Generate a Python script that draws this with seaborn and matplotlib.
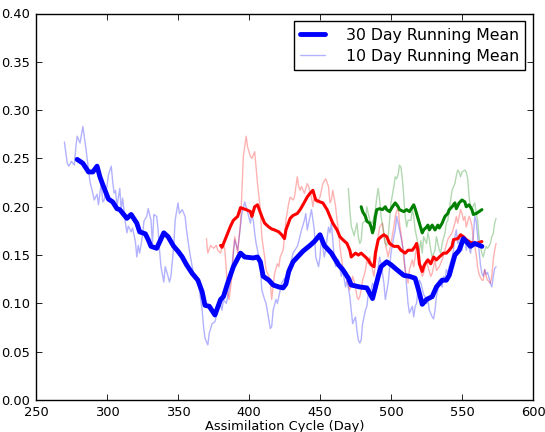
import matplotlib
matplotlib.use("Agg")
import matplotlib.pyplot as plt
import seaborn as sns

# ---- blue run -------------------------------------------------------------
blue_10_day = [270, 272, 273, 275, 277, 278, 279, 281, 283, 285, 286, 288, 290, 291, 293, 294,
               295, 296, 297, 298, 300, 301, 303, 304, 305, 306, 307, 309, 310, 311, 313, 314,
               315, 317, 318, 320, 321, 322, 323, 325, 326, 328, 329, 331, 332, 333, 335, 336,
               337, 338, 340, 341, 343, 344, 345, 347, 348, 350, 351, 353, 355, 356, 358, 360,
               361, 363, 365, 367, 368, 369, 371, 372, 374, 376, 378, 379, 381, 382, 384, 385,
               386, 388, 390, 392, 394, 395, 397, 398, 401, 402, 403, 404, 405, 406, 408, 409,
               411, 412, 414, 415, 416, 417, 419, 420, 422, 423, 425, 426, 428, 429, 431, 434,
               435, 437, 439, 440, 441, 443, 444, 446, 447, 449, 450, 451, 453, 454, 456, 457,
               458, 460, 461, 463, 465, 466, 468, 469, 471, 472, 473, 475, 476, 477, 478, 479,
               480, 482, 483, 484, 486, 487, 489, 490, 491, 492, 493, 495, 496, 498, 500, 502,
               503, 504, 505, 507, 509, 510, 511, 512, 513, 515, 516, 517, 518, 519, 520, 521,
               523, 524, 525, 526, 527, 529, 530, 531, 532, 533, 534, 536, 537, 538, 539, 540,
               541, 543, 544, 545, 546, 547, 549, 550, 551, 552, 553, 554, 556, 557, 558, 559,
               560, 561, 562, 563, 564, 565, 566, 567, 568, 570, 571, 572, 573, 574]
blue_10_val = [0.267, 0.245, 0.242, 0.247, 0.243, 0.261, 0.273, 0.266, 0.283, 0.262, 0.250, 0.226,
               0.214, 0.207, 0.213, 0.202, 0.214, 0.224, 0.205, 0.207, 0.221, 0.233, 0.242, 0.226,
               0.214, 0.217, 0.200, 0.219, 0.197, 0.209, 0.183, 0.173, 0.180, 0.174, 0.178, 0.164,
               0.148, 0.160, 0.152, 0.170, 0.185, 0.190, 0.198, 0.186, 0.162, 0.192, 0.190, 0.176,
               0.155, 0.138, 0.122, 0.138, 0.128, 0.122, 0.128, 0.159, 0.186, 0.204, 0.193, 0.197,
               0.190, 0.176, 0.155, 0.138, 0.131, 0.128, 0.114, 0.093, 0.076, 0.064, 0.057, 0.069,
               0.079, 0.081, 0.093, 0.104, 0.093, 0.104, 0.100, 0.107, 0.114, 0.138, 0.166, 0.155,
               0.180, 0.193, 0.205, 0.200, 0.183, 0.193, 0.186, 0.173, 0.162, 0.155, 0.138, 0.114,
               0.104, 0.100, 0.083, 0.074, 0.076, 0.093, 0.104, 0.100, 0.114, 0.121, 0.126, 0.121,
               0.138, 0.138, 0.152, 0.159, 0.164, 0.176, 0.186, 0.193, 0.176, 0.190, 0.197, 0.176,
               0.148, 0.138, 0.148, 0.169, 0.148, 0.155, 0.179, 0.173, 0.183, 0.148, 0.138, 0.145,
               0.128, 0.134, 0.117, 0.124, 0.107, 0.093, 0.079, 0.086, 0.072, 0.062, 0.059, 0.062,
               0.079, 0.093, 0.097, 0.110, 0.114, 0.121, 0.114, 0.124, 0.138, 0.148, 0.141, 0.121,
               0.104, 0.121, 0.152, 0.169, 0.176, 0.190, 0.183, 0.169, 0.152, 0.135, 0.117, 0.100,
               0.090, 0.097, 0.086, 0.097, 0.100, 0.114, 0.124, 0.121, 0.109, 0.107, 0.100, 0.103,
               0.093, 0.086, 0.084, 0.093, 0.107, 0.114, 0.124, 0.117, 0.128, 0.124, 0.135, 0.131,
               0.138, 0.148, 0.155, 0.169, 0.176, 0.162, 0.169, 0.155, 0.164, 0.169, 0.155, 0.162,
               0.152, 0.162, 0.170, 0.190, 0.185, 0.170, 0.155, 0.140, 0.131, 0.128, 0.135, 0.130,
               0.132, 0.121, 0.117, 0.128, 0.136, 0.138]

blue_30_day = [279, 283, 287, 290, 293, 295, 297, 301, 304, 307, 309, 314, 317, 321, 323, 327,
               329, 331, 335, 340, 343, 347, 350, 353, 356, 360, 364, 367, 369, 372, 376, 380,
               382, 385, 389, 394, 397, 403, 406, 408, 410, 414, 417, 421, 424, 426, 428, 431,
               438, 443, 446, 450, 453, 458, 463, 466, 470, 472, 478, 483, 487, 491, 493, 497,
               500, 504, 509, 513, 517, 519, 522, 525, 529, 532, 536, 539, 541, 545, 548, 551,
               553, 556, 559, 564]
blue_30_val = [0.249, 0.245, 0.236, 0.236, 0.242, 0.231, 0.223, 0.208, 0.205, 0.198, 0.197, 0.188,
               0.192, 0.183, 0.174, 0.172, 0.166, 0.159, 0.157, 0.173, 0.169, 0.159, 0.154, 0.148,
               0.140, 0.131, 0.124, 0.112, 0.098, 0.097, 0.088, 0.104, 0.107, 0.121, 0.138, 0.152,
               0.148, 0.147, 0.148, 0.143, 0.128, 0.124, 0.119, 0.117, 0.116, 0.120, 0.133, 0.143,
               0.154, 0.160, 0.164, 0.171, 0.160, 0.152, 0.140, 0.135, 0.126, 0.119, 0.117, 0.116,
               0.105, 0.128, 0.138, 0.143, 0.140, 0.135, 0.129, 0.128, 0.126, 0.116, 0.099, 0.104,
               0.107, 0.117, 0.124, 0.124, 0.129, 0.150, 0.155, 0.167, 0.164, 0.159, 0.162, 0.159]

# ---- red run --------------------------------------------------------------
red_10_day = [370, 371, 373, 375, 377, 378, 380, 381, 382, 383, 384, 385, 386, 388, 389, 390,
              392, 394, 395, 396, 398, 399, 401, 402, 404, 405, 406, 408, 409, 411, 412, 414,
              415, 416, 417, 418, 420, 421, 422, 424, 425, 426, 428, 429, 431, 432, 434, 435,
              436, 437, 439, 441, 442, 444, 445, 446, 448, 450, 452, 454, 456, 457, 458, 459,
              461, 462, 463, 464, 465, 466, 468, 469, 471, 472, 473, 475, 476, 477, 478, 479,
              480, 482, 483, 484, 485, 486, 488, 489, 490, 491, 492, 494, 495, 497, 498, 500,
              502, 503, 505, 506, 508, 509, 510, 512, 513, 515, 516, 517, 518, 519, 520, 522,
              523, 524, 525, 526, 528, 529, 530, 531, 532, 534, 536, 538, 540, 543, 545, 546,
              547, 549, 550, 551, 552, 553, 555, 556, 557, 558, 559, 560, 561, 562, 564, 565,
              566, 567, 568, 570, 571, 572, 573, 574]
red_10_val = [0.167, 0.152, 0.160, 0.157, 0.160, 0.155, 0.152, 0.159, 0.162, 0.155, 0.135, 0.110,
              0.104, 0.128, 0.155, 0.169, 0.152, 0.183, 0.215, 0.252, 0.273, 0.262, 0.252, 0.250,
              0.257, 0.240, 0.224, 0.197, 0.169, 0.148, 0.135, 0.128, 0.121, 0.104, 0.117, 0.131,
              0.141, 0.138, 0.148, 0.155, 0.169, 0.186, 0.204, 0.210, 0.207, 0.210, 0.231, 0.221,
              0.217, 0.221, 0.214, 0.224, 0.221, 0.210, 0.200, 0.210, 0.204, 0.210, 0.224, 0.229,
              0.221, 0.204, 0.207, 0.217, 0.200, 0.186, 0.176, 0.159, 0.148, 0.138, 0.128, 0.124,
              0.114, 0.121, 0.128, 0.117, 0.107, 0.104, 0.107, 0.114, 0.124, 0.134, 0.145, 0.141,
              0.148, 0.141, 0.128, 0.141, 0.155, 0.169, 0.179, 0.183, 0.169, 0.155, 0.148, 0.162,
              0.179, 0.190, 0.200, 0.183, 0.162, 0.145, 0.135, 0.121, 0.135, 0.145, 0.138, 0.148,
              0.159, 0.152, 0.138, 0.128, 0.131, 0.138, 0.145, 0.138, 0.128, 0.131, 0.138, 0.145,
              0.134, 0.138, 0.145, 0.155, 0.166, 0.173, 0.183, 0.190, 0.183, 0.197, 0.193, 0.186,
              0.190, 0.179, 0.190, 0.186, 0.180, 0.166, 0.160, 0.150, 0.138, 0.130, 0.124, 0.124,
              0.135, 0.128, 0.124, 0.121, 0.128, 0.145, 0.155, 0.162]

red_30_day = [380, 381, 384, 387, 389, 392, 394, 398, 401, 402, 404, 406, 409, 411, 414, 416,
              418, 421, 423, 425, 426, 429, 431, 434, 436, 438, 441, 443, 445, 447, 450, 452,
              455, 457, 459, 462, 464, 466, 469, 471, 472, 475, 477, 479, 482, 484, 486, 488,
              489, 491, 493, 495, 497, 499, 502, 505, 507, 510, 512, 515, 517, 518, 519, 520,
              522, 523, 524, 526, 528, 530, 532, 534, 537, 539, 541, 543, 544, 547, 549, 551,
              553, 556, 560, 564]
red_30_val = [0.160, 0.158, 0.169, 0.180, 0.186, 0.190, 0.199, 0.197, 0.195, 0.190, 0.200, 0.202,
              0.190, 0.183, 0.179, 0.177, 0.176, 0.174, 0.171, 0.167, 0.176, 0.188, 0.191, 0.193,
              0.197, 0.202, 0.210, 0.214, 0.217, 0.207, 0.205, 0.204, 0.197, 0.190, 0.183, 0.176,
              0.169, 0.166, 0.162, 0.155, 0.148, 0.152, 0.150, 0.152, 0.148, 0.145, 0.140, 0.138,
              0.152, 0.166, 0.169, 0.171, 0.169, 0.162, 0.159, 0.159, 0.155, 0.152, 0.155, 0.155,
              0.159, 0.162, 0.155, 0.141, 0.133, 0.138, 0.141, 0.145, 0.141, 0.148, 0.145, 0.148,
              0.152, 0.152, 0.155, 0.159, 0.166, 0.167, 0.171, 0.169, 0.166, 0.163, 0.162, 0.164]

# ---- green run ------------------------------------------------------------
green_10_day = [470, 471, 472, 473, 474, 476, 477, 478, 479, 480, 482, 483, 484, 485, 487, 489,
                490, 491, 492, 493, 495, 496, 497, 498, 499, 500, 502, 503, 504, 505, 506, 507,
                508, 509, 510, 511, 512, 514, 515, 516, 517, 518, 520, 521, 522, 523, 525, 526,
                527, 528, 529, 531, 532, 533, 534, 535, 536, 538, 539, 540, 541, 542, 543, 545,
                546, 547, 548, 549, 550, 552, 553, 554, 555, 556, 557, 559, 560, 561, 562, 563,
                564, 565, 566, 567, 568, 570, 571, 572, 573, 574]
green_10_val = [0.219, 0.197, 0.180, 0.175, 0.170, 0.183, 0.169, 0.162, 0.165, 0.183, 0.186, 0.200,
                0.193, 0.186, 0.183, 0.197, 0.210, 0.219, 0.207, 0.190, 0.173, 0.162, 0.160, 0.169,
                0.186, 0.204, 0.221, 0.231, 0.229, 0.233, 0.243, 0.241, 0.229, 0.210, 0.190, 0.179,
                0.186, 0.186, 0.197, 0.190, 0.176, 0.169, 0.155, 0.165, 0.152, 0.169, 0.162, 0.173,
                0.166, 0.155, 0.148, 0.155, 0.169, 0.162, 0.155, 0.152, 0.162, 0.173, 0.183, 0.186,
                0.197, 0.207, 0.217, 0.224, 0.232, 0.238, 0.236, 0.231, 0.236, 0.238, 0.236, 0.229,
                0.210, 0.200, 0.198, 0.204, 0.193, 0.186, 0.169, 0.159, 0.152, 0.148, 0.155, 0.159,
                0.157, 0.162, 0.169, 0.172, 0.183, 0.188]

green_30_day = [479, 480, 482, 483, 485, 486, 487, 488, 489, 490, 492, 494, 496, 497, 499, 501,
                503, 505, 506, 509, 511, 513, 516, 517, 518, 520, 522, 523, 525, 526, 527, 529,
                531, 533, 534, 536, 538, 540, 541, 543, 545, 546, 548, 550, 552, 553, 555, 557,
                558, 560, 562, 564]
green_30_val = [0.200, 0.195, 0.190, 0.185, 0.183, 0.179, 0.173, 0.178, 0.190, 0.197, 0.198, 0.197,
                0.200, 0.197, 0.195, 0.200, 0.204, 0.200, 0.197, 0.195, 0.197, 0.195, 0.202, 0.198,
                0.193, 0.183, 0.173, 0.176, 0.179, 0.181, 0.176, 0.181, 0.176, 0.181, 0.178, 0.183,
                0.190, 0.193, 0.197, 0.200, 0.204, 0.198, 0.204, 0.207, 0.205, 0.200, 0.202, 0.197,
                0.192, 0.193, 0.195, 0.197]

x_ticks = [250, 300, 350, 400, 450, 500, 550, 600]
y_ticks = [0.00, 0.05, 0.10, 0.15, 0.20, 0.25, 0.30, 0.35, 0.40]

sns.set_theme(style="ticks", rc={
    "xtick.direction": "in", "ytick.direction": "in",
    "xtick.top": True, "ytick.right": True,
    "xtick.major.size": 4, "ytick.major.size": 4,
    "xtick.major.width": 0.6, "ytick.major.width": 0.6,
    "axes.edgecolor": "black", "axes.linewidth": 1.0,
    "text.color": "black", "axes.labelcolor": "black",
    "xtick.color": "black", "ytick.color": "black",
    "font.size": 9.4, "xtick.labelsize": 9.4, "ytick.labelsize": 9.4,
    "axes.labelsize": 9.4, "legend.fontsize": 11.3,
})
plt.rcParams["font.family"] = ["DejaVu Sans"]

fig = plt.figure(figsize=(5.45, 4.32), dpi=100)
ax = fig.add_axes([36 / 545, 32 / 432, 497 / 545, 386.5 / 432])

# faint 10-day means first, thick 30-day means on top
sns.lineplot(x=blue_10_day, y=blue_10_val, color="#0000ff", alpha=0.3, linewidth=1,
             label="10 Day Running Mean", ax=ax)
sns.lineplot(x=red_10_day, y=red_10_val, color="#ff0000", alpha=0.3, linewidth=1, ax=ax)
sns.lineplot(x=green_10_day, y=green_10_val, color="#008000", alpha=0.3, linewidth=1, ax=ax)
sns.lineplot(x=red_30_day, y=red_30_val, color="#ff0000", linewidth=2.2, ax=ax)
sns.lineplot(x=green_30_day, y=green_30_val, color="#008000", linewidth=2.2, ax=ax)
sns.lineplot(x=blue_30_day, y=blue_30_val, color="#0000ff", linewidth=3.5,
             label="30 Day Running Mean", ax=ax)

ax.set_xlim(250, 600)
ax.set_ylim(0, 0.40)
ax.set_xticks(x_ticks)
ax.set_yticks(y_ticks)
ax.set_yticklabels([f"{v:.2f}" for v in y_ticks])
ax.tick_params(axis="both", pad=4)
ax.set_xlabel("Assimilation Cycle (Day)", labelpad=1)
ax.set_ylabel("")

handles, labels = ax.get_legend_handles_labels()
order = [labels.index("30 Day Running Mean"), labels.index("10 Day Running Mean")]
leg = ax.legend([handles[i] for i in order], [labels[i] for i in order],
                loc="upper right", fancybox=False, framealpha=1, edgecolor="black",
                handlelength=1.6, handletextpad=1.3, borderpad=0.4, labelspacing=0.4)
leg.get_frame().set_linewidth(1.0)

fig.savefig("out.png", dpi=100)
